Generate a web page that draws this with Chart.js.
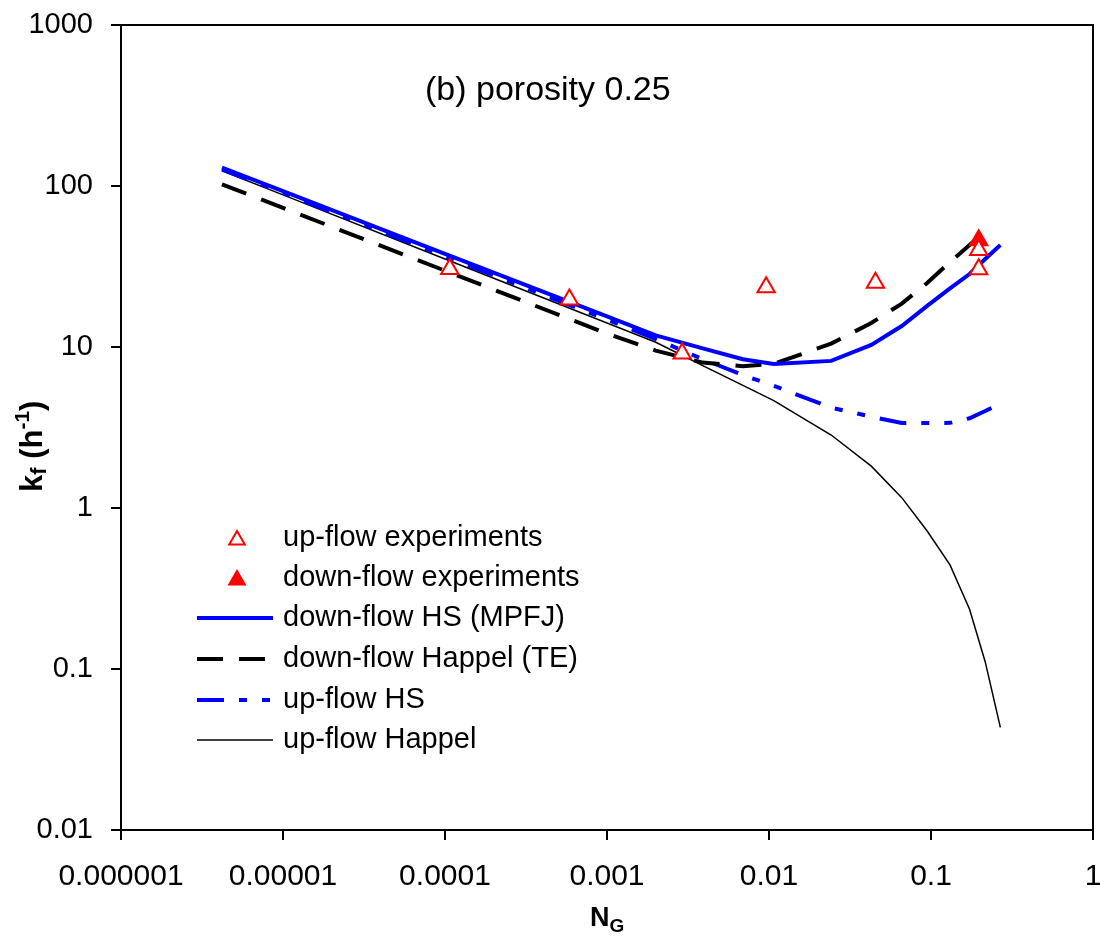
<!DOCTYPE html>
<html>
<head>
<meta charset="utf-8">
<script src="https://cdn.jsdelivr.net/npm/chart.js@4.4.0/dist/chart.umd.min.js"></script>
<style>
  html, body { margin: 0; padding: 0; background: #fff; }
  #wrap { width: 1100px; height: 938px; }
</style>
</head>
<body>
<div id="wrap"><canvas id="chart" width="1100" height="938"></canvas></div>
<script>
// N_G values where the model curves were computed
var ngModel = [4.2e-6, 1e-5, 1e-4, 1e-3, 2e-3, 3.9e-3, 6.9e-3, 0.0107, 0.0242, 0.0428, 0.066, 0.0947, 0.131, 0.173, 0.216, 0.268];

// model curves, kf (1/h)
var downHS     = [130, 93, 37.9, 15.5, 11.8, 9.8, 8.4, 7.85, 8.2, 10.3, 13.5, 18.0, 23.1, 28.4, 35.2, 43];
var downHappel = [102.5, 73.1, 29.8, 12.1, 9.5, 8.0, 7.6, 7.85, 10.5, 14.1, 18.6, 25.0, 33.7, 43, 52.5, null];
var upHS       = [127, 90.5, 36.5, 14.8, 11.2, 8.4, 6.7, 5.74, 4.2, 3.69, 3.37, 3.37, 3.38, 3.61, 4.0, 4.45];
var upHappel   = [124.5, 88.1, 35.2, 14.1, 10.7, 7.66, 5.78, 4.64, 2.84, 1.82, 1.16, 0.72, 0.443, 0.235, 0.111, 0.0434];

// experiments
var upExpNG = [1.07e-4, 5.86e-4, 2.91e-3, 9.6e-3, 0.0454, 0.197, 0.197];
var upExpKf = [30.5, 19.7, 9.1, 23.5, 25.1, 40.0, 30.4];
var downExpNG = [0.197];
var downExpKf = [46.0];

var xTicks = [0.000001, 0.00001, 0.0001, 0.001, 0.01, 0.1, 1];
var yTicks = [0.01, 0.1, 1, 10, 100, 1000];

var FONT = '"Liberation Sans", Arial, sans-serif';

function pairs(xs, ys) {
    var out = [];
    for (var i = 0; i < xs.length; i++) {
        if (ys[i] != null) out.push({x: xs[i], y: ys[i]});
    }
    return out;
}

function drawTriangle(ctx, x, y, r, filled) {
    ctx.beginPath();
    ctx.moveTo(x, y - r);
    ctx.lineTo(x + r * 0.866, y + r * 0.5);
    ctx.lineTo(x - r * 0.866, y + r * 0.5);
    ctx.closePath();
    ctx.fillStyle = filled ? 'red' : '#fff';
    ctx.fill();
    ctx.strokeStyle = 'red';
    ctx.lineWidth = 2;
    ctx.stroke();
}

// draws text pieces one after another along the baseline
function drawRich(ctx, parts, x, y) {
    var cx = x;
    parts.forEach(function(p) {
        ctx.font = 'bold ' + p.size + 'px ' + FONT;
        ctx.fillText(p.t, cx, y + (p.dy || 0));
        cx += ctx.measureText(p.t).width;
    });
}

function noPadding() {
    return {left: 0, right: 0, top: 0, bottom: 0};
}

var extras = {
    id: 'extras',
    afterDraw: function(chart) {
        var ctx = chart.ctx;
        var a = chart.chartArea;
        ctx.save();

        // frame
        ctx.strokeStyle = '#000';
        ctx.lineWidth = 2;
        ctx.strokeRect(a.left, a.top, a.right - a.left, a.bottom - a.top);

        // annotation
        ctx.fillStyle = '#000';
        ctx.font = '34px ' + FONT;
        ctx.textBaseline = 'alphabetic';
        ctx.textAlign = 'left';
        ctx.fillText('(b) porosity 0.25', 425, 100);

        // legend
        var ds = chart.data.datasets;
        var rowY = [538, 578, 618, 659, 700, 740];
        ctx.font = '29px ' + FONT;
        ctx.textBaseline = 'middle';
        for (var i = 0; i < ds.length; i++) {
            var y = rowY[i];
            if (ds[i].showLine === false) {
                drawTriangle(ctx, 237, y + 2, 9, ds[i].pointBackgroundColor === 'red');
            } else {
                ctx.beginPath();
                ctx.setLineDash(ds[i].borderDash || []);
                ctx.strokeStyle = ds[i].borderColor;
                ctx.lineWidth = ds[i].borderWidth;
                ctx.moveTo(197, y);
                ctx.lineTo(273, y);
                ctx.stroke();
                ctx.setLineDash([]);
            }
            ctx.fillStyle = '#000';
            ctx.fillText(ds[i].label, 283, y);
        }

        // axis titles
        ctx.textBaseline = 'alphabetic';
        ctx.fillStyle = '#000';
        drawRich(ctx, [{t: 'N', size: 27}, {t: 'G', size: 19, dy: 6}], 590, 926);

        ctx.save();
        ctx.translate(42, 492);
        ctx.rotate(-Math.PI / 2);
        drawRich(ctx, [
            {t: 'k', size: 31},
            {t: 'f', size: 22, dy: 4},
            {t: ' (h', size: 31},
            {t: '-1', size: 21, dy: -13},
            {t: ')', size: 31}
        ], 0, 0);
        ctx.restore();

        ctx.restore();
    }
};

var ctx = document.getElementById('chart');
var chart = new Chart(ctx, {
    type: 'scatter',
    data: {
        datasets: [
            {
                label: 'up-flow experiments',
                data: pairs(upExpNG, upExpKf),
                showLine: false,
                pointStyle: 'triangle',
                pointRadius: 10,
                pointBorderWidth: 2,
                pointBorderColor: 'red',
                pointBackgroundColor: '#fff'
            },
            {
                label: 'down-flow experiments',
                data: pairs(downExpNG, downExpKf),
                showLine: false,
                pointStyle: 'triangle',
                pointRadius: 10,
                pointBorderWidth: 2,
                pointBorderColor: 'red',
                pointBackgroundColor: 'red'
            },
            {
                label: 'down-flow HS (MPFJ)',
                data: pairs(ngModel, downHS),
                showLine: true,
                borderColor: '#0000ff',
                borderWidth: 4,
                pointRadius: 0,
                tension: 0
            },
            {
                label: 'down-flow Happel (TE)',
                data: pairs(ngModel, downHappel),
                showLine: true,
                borderColor: '#000',
                borderWidth: 4,
                borderDash: [26, 16],
                pointRadius: 0,
                tension: 0
            },
            {
                label: 'up-flow HS',
                data: pairs(ngModel, upHS),
                showLine: true,
                borderColor: '#0000ff',
                borderWidth: 4,
                borderDash: [27, 15, 8, 15, 8, 15],
                pointRadius: 0,
                tension: 0
            },
            {
                label: 'up-flow Happel',
                data: pairs(ngModel, upHappel),
                showLine: true,
                borderColor: '#000',
                borderWidth: 1.5,
                pointRadius: 0,
                tension: 0
            }
        ]
    },
    options: {
        responsive: false,
        animation: false,
        devicePixelRatio: 1,
        layout: { autoPadding: false, padding: { left: 0, right: 7, top: 25, bottom: 0 } },
        plugins: {
            legend: { display: false },
            tooltip: { enabled: false }
        },
        scales: {
            x: {
                type: 'logarithmic',
                min: 0.000001,
                max: 1,
                afterBuildTicks: function(scale) {
                    scale.ticks = xTicks.map(function(v) { return {value: v}; });
                },
                afterFit: function(scale) {
                    scale.height = 108;
                    scale.getPadding = noPadding;
                },
                border: { display: true, color: '#000', width: 2 },
                grid: { drawOnChartArea: false, drawTicks: true, tickLength: 10, color: '#000', lineWidth: 2 },
                ticks: {
                    autoSkip: false,
                    maxRotation: 0,
                    padding: 19,
                    color: '#000',
                    font: { family: FONT, size: 30 },
                    callback: function(v) { return String(v); }
                }
            },
            y: {
                type: 'logarithmic',
                min: 0.01,
                max: 1000,
                afterBuildTicks: function(scale) {
                    scale.ticks = yTicks.map(function(v) { return {value: v}; });
                },
                afterFit: function(scale) {
                    scale.width = 121;
                    scale.getPadding = noPadding;
                },
                border: { display: true, color: '#000', width: 2 },
                grid: { drawOnChartArea: false, drawTicks: true, tickLength: 10, color: '#000', lineWidth: 2 },
                ticks: {
                    autoSkip: false,
                    padding: 18,
                    color: '#000',
                    font: { family: FONT, size: 29 },
                    callback: function(v) { return String(v); }
                }
            }
        }
    },
    plugins: [extras]
});
</script>
</body>
</html>
